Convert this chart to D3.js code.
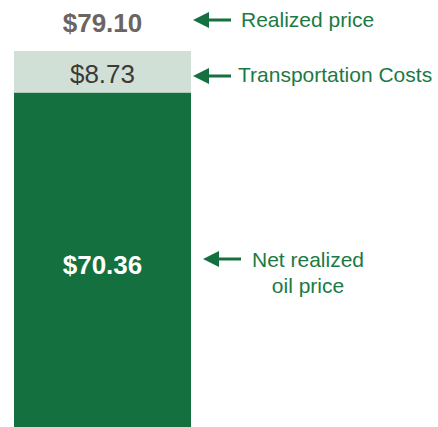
<!DOCTYPE html>
<html>
<head>
<meta charset="utf-8">
<script src="https://cdn.jsdelivr.net/npm/d3@7"></script>
<style>
	body { margin: 0; background: #fff; }
	svg { display: block; font-family: "Liberation Sans", Arial, sans-serif; }
</style>
</head>
<body>
<div id="chart"></div>
<script>
	"use strict";

	var categories = ["Net realized oil price", "Transportation Costs"],
		values = [70.36, 8.73],
		totalLabel = "$79.10",
		valueLabels = ["$70.36", "$8.73"],
		annotations = [["Net realized", "oil price"], ["Transportation Costs"], ["Realized price"]];

	var chartWidth = 438,
		chartHeight = 427,
		darkGreen = "#14703f",
		lightGreen = "#d0e0d6",
		textGreen = "#1b7a44";

	var svg = d3.select("#chart")
		.append("svg")
		.attr("width", chartWidth)
		.attr("height", chartHeight);

	var total = d3.sum(values);

	var x = d3.scaleBand().domain(["price"]).range([14, 191]).padding(0),
		y = d3.scaleLinear().domain([0, total]).range([427, 51]);

	// stack the two pieces
	var row = {};
	categories.forEach(function(c, i) { row[c] = values[i]; });
	var stacked = d3.stack().keys(categories)([row]);

	svg.selectAll(".bar")
		.data(stacked)
		.enter()
		.append("rect")
		.attr("class", "bar")
		.attr("x", x("price"))
		.attr("width", x.bandwidth())
		.attr("y", function(d) { return y(d[0][1]); })
		.attr("height", function(d) { return y(d[0][0]) - y(d[0][1]); })
		.style("fill", function(d, i) { return i === 0 ? darkGreen : lightGreen; });

	var cx = x("price") + x.bandwidth() / 2;

	// value labels
	svg.append("text")
		.attr("x", cx)
		.attr("y", 274)
		.attr("text-anchor", "middle")
		.style("font-size", "26px")
		.style("font-weight", "bold")
		.style("fill", "#fff")
		.text(valueLabels[0]);

	svg.append("text")
		.attr("x", cx)
		.attr("y", 83)
		.attr("text-anchor", "middle")
		.style("font-size", "26px")
		.style("fill", "#3d3938")
		.text(valueLabels[1]);

	svg.append("text")
		.attr("x", cx)
		.attr("y", 32)
		.attr("text-anchor", "middle")
		.style("font-size", "26px")
		.style("font-weight", "bold")
		.style("fill", "#6c6461")
		.text(totalLabel);

	// arrows + annotation text
	function arrow(x0, x1, yy) {
		svg.append("line")
			.attr("x1", x0 + 14).attr("x2", x1)
			.attr("y1", yy).attr("y2", yy)
			.style("stroke", darkGreen)
			.style("stroke-width", 3);
		svg.append("path")
			.attr("d", "M" + x0 + "," + yy + "L" + (x0 + 16) + "," + (yy - 8) + "L" + (x0 + 16) + "," + (yy + 8) + "Z")
			.style("fill", darkGreen);
	}

	arrow(193, 231, 20);
	arrow(193, 231, 76);
	arrow(203, 241, 259);

	svg.append("text")
		.attr("x", 241).attr("y", 27)
		.style("font-size", "21px")
		.style("fill", textGreen)
		.text(annotations[2][0]);

	svg.append("text")
		.attr("x", 238).attr("y", 82)
		.style("font-size", "21px")
		.style("fill", textGreen)
		.text(annotations[1][0]);

	svg.append("text")
		.attr("x", 308).attr("y", 267)
		.attr("text-anchor", "middle")
		.style("font-size", "21px")
		.style("fill", textGreen)
		.selectAll("tspan")
		.data(annotations[0])
		.enter()
		.append("tspan")
		.attr("x", 308)
		.attr("dy", function(d, i) { return i === 0 ? 0 : 26; })
		.text(function(d) { return d; });
</script>
</body>
</html>
